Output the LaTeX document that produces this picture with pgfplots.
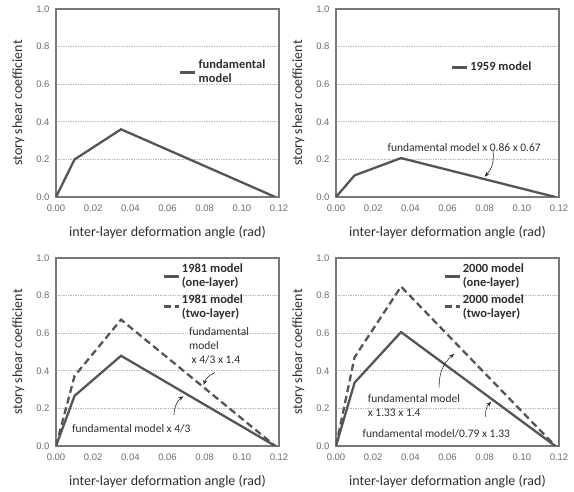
\documentclass[border=0pt]{standalone}
\usepackage{fontspec}
\setmainfont{Carlito}
\newfontfamily\tickfont{Liberation Sans}
\usepackage{pgfplots}
\pgfplotsset{compat=1.18}
\usepgfplotslibrary{groupplots}
\usetikzlibrary{arrows.meta}
\definecolor{lin}{RGB}{85,85,85}
\definecolor{frm}{RGB}{120,120,120}
\definecolor{txt}{RGB}{45,45,45}

\pgfplotsset{
  panel/.style={
    width=223pt, height=188pt, scale only axis,
    xmin=0, xmax=0.12, ymin=0, ymax=1.0,
    xtick={0,0.02,...,0.12}, ytick={0,0.2,...,1.0},
    xticklabel style={/pgf/number format/fixed, /pgf/number format/fixed zerofill,
      /pgf/number format/precision=2, yshift=-4pt},
    yticklabel style={/pgf/number format/fixed, /pgf/number format/fixed zerofill,
      /pgf/number format/precision=1, xshift=-3pt},
    scaled x ticks=false,
    /pgf/number format/assume math mode=true,
    tick label style={font=\tickfont\fontsize{9.5}{10}\selectfont, text=txt!70},
    major tick length=0pt,
    ymajorgrids, grid style={draw=gray!55, line width=0.7pt, densely dotted},
    axis line style={draw=frm, line width=1.1pt},
    xlabel={inter-layer deformation angle (rad)},
    ylabel={story shear coefficient},
    label style={font=\fontsize{14}{16}\selectfont, text=txt},
    xlabel style={yshift=-8pt},
    ylabel style={yshift=5pt},
    legend style={draw=none, fill=none, font=\bfseries\fontsize{12.5}{14}\selectfont,
      text=txt, cells={align=left}, row sep=2pt},
    legend cell align=left,
    legend image code/.code={\draw[#1, line width=2.6pt] (0pt,0pt) -- (15pt,0pt);},
  },
  sol/.style={lin, line width=2.3pt, solid, mark=none},
  dsh/.style={lin, line width=2.3pt, mark=none, dash pattern=on 7pt off 4pt},
}
\tikzset{note/.style={font=\fontsize{11.5}{13.5}\selectfont, text=txt, align=left, inner sep=1pt},
  arr/.style={-{Stealth[length=5pt,width=4pt]}, draw=txt, line width=0.6pt}}

\begin{document}
\begin{tikzpicture}
\begin{groupplot}[group style={group size=2 by 2, horizontal sep=57pt, vertical sep=61pt}, panel]
% fundamental model
\nextgroupplot[legend style={at={(axis cs:0.0645,0.75)}, anchor=north west}]
\addplot[sol] coordinates {(0,0) (0.01,0.20) (0.035,0.36) (0.118,0)};
\addlegendentry{fundamental\\model}
% 1959 model
\nextgroupplot[legend style={at={(axis cs:0.060,0.74)}, anchor=north west}]
\addplot[sol] coordinates {(0,0) (0.01,0.115) (0.035,0.207) (0.118,0)};
\addlegendentry{1959 model}
\node[note, anchor=center] at (axis cs:0.069,0.265) {fundamental model x 0.86 x 0.67};
\draw[arr] (axis cs:0.0845,0.245) to[bend left=25] (axis cs:0.080,0.108);
% 1981 model
\nextgroupplot[legend style={at={(axis cs:0.0555,0.99)}, anchor=north west}]
\addplot[sol] coordinates {(0,0) (0.01,0.267) (0.035,0.48) (0.118,0)};
\addlegendentry{1981 model\\(one-layer)}
\addplot[dsh] coordinates {(0,0) (0.01,0.373) (0.035,0.672) (0.118,0)};
\addlegendentry{1981 model\\(two-layer)}
\node[note, anchor=north west] at (axis cs:0.071,0.635) {fundamental\\model\\[1pt]\ x 4/3 x 1.4};
\draw[arr] (axis cs:0.0855,0.39) to[bend right=25] (axis cs:0.0795,0.325);
\node[note, anchor=center] at (axis cs:0.0405,0.09) {fundamental model x 4/3};
\draw[arr] (axis cs:0.0635,0.165) to[bend left=25] (axis cs:0.0685,0.265);
% 2000 model
\nextgroupplot[legend style={at={(axis cs:0.0560,0.99)}, anchor=north west}]
\addplot[sol] coordinates {(0,0) (0.01,0.337) (0.035,0.606) (0.118,0)};
\addlegendentry{2000 model\\(one-layer)}
\addplot[dsh] coordinates {(0,0) (0.01,0.472) (0.035,0.848) (0.118,0)};
\addlegendentry{2000 model\\(two-layer)}
\node[note, anchor=north west] at (axis cs:0.0165,0.28) {fundamental model\\x 1.33 x 1.4};
\draw[arr] (axis cs:0.0555,0.31) to[bend left=25] (axis cs:0.0635,0.49);
\node[note, anchor=center] at (axis cs:0.054,0.064) {fundamental model/0.79 x 1.33};
\draw[arr] (axis cs:0.0805,0.155) to[bend left=25] (axis cs:0.0835,0.235);
\end{groupplot}
\path (group c1r1.south west) ++(-56pt,197pt) coordinate (tl);
\path (group c1r1.south west) ++(518pt,-291pt) coordinate (br);
\path (tl) rectangle (br);
\end{tikzpicture}
\end{document}
